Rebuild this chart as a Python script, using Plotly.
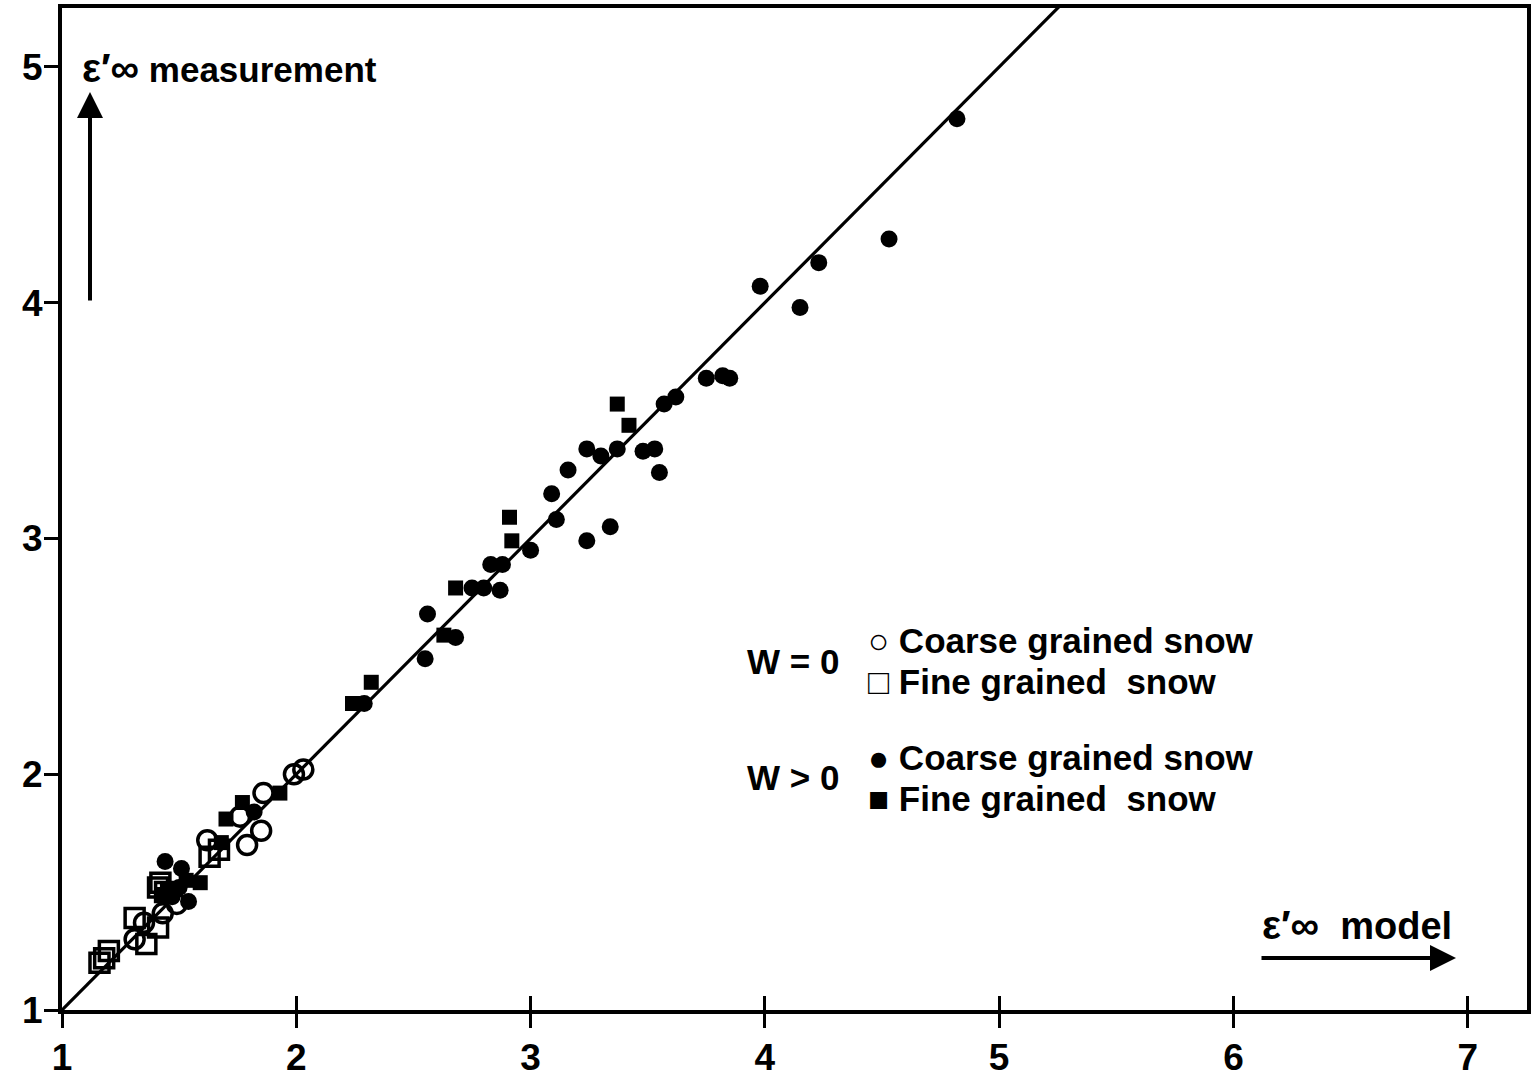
import plotly.graph_objects as go

# W = 0, coarse grained snow (open circles)
oc_x = [1.99, 2.03, 1.86, 1.85, 1.79, 1.76, 1.62, 1.49, 1.43, 1.35, 1.31]
oc_y = [2.00, 2.02, 1.92, 1.76, 1.70, 1.82, 1.72, 1.45, 1.41, 1.37, 1.30]

# W = 0, fine grained snow (open squares)
os_x = [1.63, 1.67, 1.42, 1.41, 1.44, 1.31, 1.41, 1.36, 1.20, 1.18, 1.16]
os_y = [1.65, 1.68, 1.54, 1.52, 1.50, 1.39, 1.35, 1.28, 1.25, 1.22, 1.20]

# W > 0, coarse grained snow (filled circles)
fc_x = [4.82, 4.53, 4.23, 3.98, 4.15, 3.75, 3.82, 3.85, 3.62, 3.57, 3.37, 3.30, 3.24,
        3.48, 3.53, 3.55, 3.16, 3.09, 3.11, 3.34, 3.24, 3.00, 2.83, 2.88, 2.75, 2.80,
        2.87, 2.56, 2.68, 2.55, 2.29, 1.82, 1.44, 1.51, 1.54, 1.47, 1.50]
fc_y = [4.78, 4.27, 4.17, 4.07, 3.98, 3.68, 3.69, 3.68, 3.60, 3.57, 3.38, 3.35, 3.38,
        3.37, 3.38, 3.28, 3.29, 3.19, 3.08, 3.05, 2.99, 2.95, 2.89, 2.89, 2.79, 2.79,
        2.78, 2.68, 2.58, 2.49, 2.30, 1.84, 1.63, 1.60, 1.46, 1.48, 1.52]

# W > 0, fine grained snow (filled squares)
fs_x = [3.37, 3.42, 2.91, 2.92, 2.68, 2.63, 2.32, 2.24, 1.93, 1.77, 1.70, 1.68, 1.59,
        1.53, 1.43, 1.45]
fs_y = [3.57, 3.48, 3.09, 2.99, 2.79, 2.59, 2.39, 2.30, 1.92, 1.88, 1.81, 1.71, 1.54,
        1.55, 1.49, 1.51]

# 1:1 reference line
line_x = [1.0, 5.4]
line_y = [1.0, 5.4]

x_ticks = [1, 2, 3, 4, 5, 6, 7]
y_ticks = [1, 2, 3, 4, 5]

FONT = "Liberation Sans, Arial, sans-serif"

fig = go.Figure()
fig.add_trace(go.Scatter(x=line_x, y=line_y, mode="lines",
                         line=dict(color="black", width=3.2), showlegend=False,
                         hoverinfo="skip"))
fig.add_trace(go.Scatter(x=oc_x, y=oc_y, mode="markers", showlegend=False,
                         marker=dict(symbol="circle-open", size=19, color="black",
                                     line=dict(width=3.5, color="black"))))
fig.add_trace(go.Scatter(x=os_x, y=os_y, mode="markers", showlegend=False,
                         marker=dict(symbol="square-open", size=19, color="black",
                                     line=dict(width=3.5, color="black"))))
fig.add_trace(go.Scatter(x=fc_x, y=fc_y, mode="markers", showlegend=False,
                         marker=dict(symbol="circle", size=17, color="black")))
fig.add_trace(go.Scatter(x=fs_x, y=fs_y, mode="markers", showlegend=False,
                         marker=dict(symbol="square", size=15, color="black")))
# invisible trace to drive the secondary x axis (inner tick marks)
fig.add_trace(go.Scatter(x=[1], y=[1], xaxis="x2", mode="markers",
                         marker=dict(opacity=0), showlegend=False, hoverinfo="skip"))

tick_font = dict(family=FONT, size=37, color="black")

fig.update_layout(
    width=1531, height=1080,
    margin=dict(l=62, r=4, t=8, b=70, autoexpand=False),
    paper_bgcolor="white", plot_bgcolor="white",
    font=dict(family=FONT, color="black"),
    xaxis=dict(range=[1, 7.253], tickvals=x_ticks, ticktext=[f"<b>{v}</b>" for v in x_ticks],
               ticks="outside", ticklen=14, tickwidth=3, tickcolor="black",
               showline=True, linewidth=4, linecolor="black", mirror=True,
               showgrid=False, zeroline=False, tickfont=tick_font, automargin=False,
               ticklabelstandoff=-2),
    xaxis2=dict(range=[1, 7.253], overlaying="x", anchor="y", side="bottom",
                tickvals=x_ticks, showticklabels=False, ticks="inside", ticklen=14,
                tickwidth=3, tickcolor="black", showgrid=False, zeroline=False,
                showline=False, automargin=False),
    yaxis=dict(range=[1, 5.25], tickvals=y_ticks, ticktext=[f"<b>{v}</b>" for v in y_ticks],
               ticks="outside", ticklen=14, tickwidth=3, tickcolor="black",
               showline=True, linewidth=4, linecolor="black", mirror=True,
               showgrid=False, zeroline=False, tickfont=tick_font, automargin=False,
               ticklabelstandoff=-6),
)

ann_font = dict(family=FONT, size=35, color="black")

# helper mapping page pixels of the plotting frame to paper fractions
px0, pw = 62, 1465
py0, ph = 8, 1002
def px(x):
    return (x - px0) / pw
def py(y):
    return 1 - (y - py0) / ph

annotations = [
    dict(x=px(80), y=py(68), xref="paper", yref="paper", xanchor="left", yanchor="middle",
         text="<b><span style='font-size:40px'>ε′∞</span> measurement</b>", showarrow=False,
         font=dict(family=FONT, size=35)),
    dict(x=px(1260), y=py(925), xref="paper", yref="paper", xanchor="left", yanchor="middle",
         text="<b><span style='font-size:40px'>ε′∞</span>  model</b>", showarrow=False,
         font=dict(family=FONT, size=38)),
    dict(x=px(793), y=py(661), xref="paper", yref="paper", xanchor="center", yanchor="middle",
         text="<b>W = 0</b>", showarrow=False, font=ann_font),
    dict(x=px(793), y=py(777), xref="paper", yref="paper", xanchor="center", yanchor="middle",
         text="<b>W > 0</b>", showarrow=False, font=ann_font),
    dict(x=px(866), y=py(640), xref="paper", yref="paper", xanchor="left", yanchor="middle",
         text="<b>○ Coarse grained snow</b>", showarrow=False, font=ann_font),
    dict(x=px(866), y=py(681), xref="paper", yref="paper", xanchor="left", yanchor="middle",
         text="<b>□ Fine grained  snow</b>", showarrow=False, font=ann_font),
    dict(x=px(866), y=py(757), xref="paper", yref="paper", xanchor="left", yanchor="middle",
         text="<b>● Coarse grained snow</b>", showarrow=False, font=ann_font),
    dict(x=px(866), y=py(798), xref="paper", yref="paper", xanchor="left", yanchor="middle",
         text="<b>■ Fine grained  snow</b>", showarrow=False, font=ann_font),
    # arrows
    dict(x=px(90), y=py(92), xref="paper", yref="paper", ax=0, ay=210,
         text="", showarrow=True,
         arrowhead=2, arrowsize=1.3, arrowwidth=4, arrowcolor="black"),
    dict(x=px(1456), y=py(958), xref="paper", yref="paper", ax=-196, ay=0,
         text="", showarrow=True,
         arrowhead=2, arrowsize=1.3, arrowwidth=4, arrowcolor="black"),
]
fig.update_layout(annotations=annotations)

fig.write_html("out.html")
